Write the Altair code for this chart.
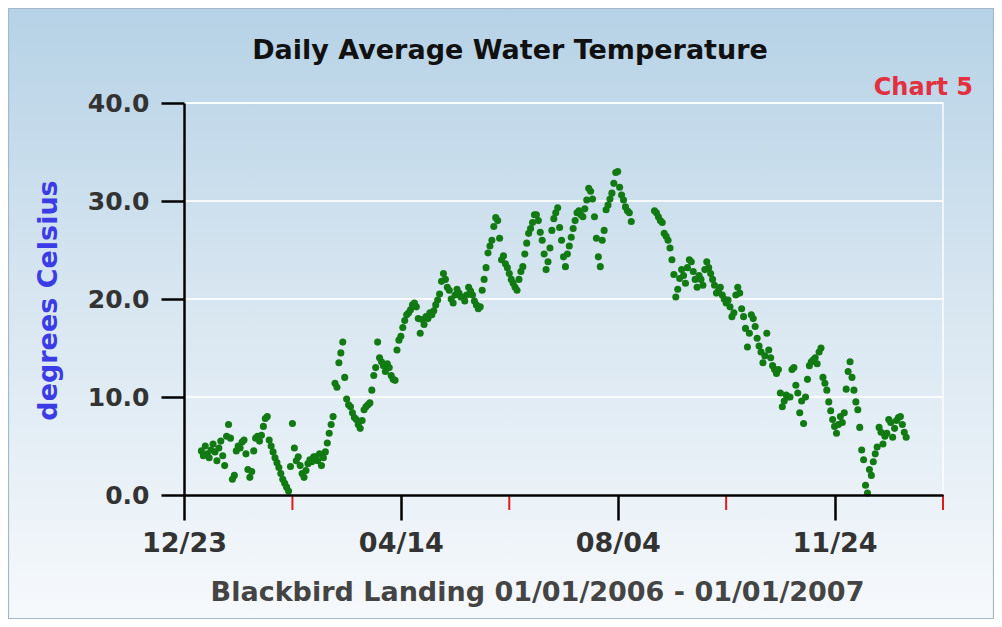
import altair as alt
import pandas as pd

# Daily average water temperature (deg C), 2006
jan_t = [4.5, 4.0, 5.0, 4.2, 3.8, 4.6, 5.2, 4.4, 3.5, 4.8,
         5.5, 4.0, 3.0, 6.0, 7.2, 5.8, 1.6, 2.0, 4.5, 5.0,
         4.8, 5.4, 5.6, 4.2, 2.6, 1.8, 2.4, 4.5, 5.8, 6.0, 5.5]
feb_t = [6.1, 7.0, 7.8, 8.0, 5.6, 5.0, 4.4, 3.8, 3.3,
         2.8, 2.2, 1.6, 1.2, 0.8, 0.4, 2.9, 7.3, 4.8, 3.5,
         3.9, 3.0, 2.2, 1.8, 2.5, 3.2, 3.6, 3.4, 3.9]
mar_t = [3.9, 3.5, 4.2, 3.0, 3.8, 4.4, 5.3, 6.3, 7.2, 8.0,
         11.4, 11.0, 13.5, 14.5, 15.6, 12.0, 9.8, 9.2, 9.0, 8.4,
         7.9, 7.7, 7.2, 6.8, 7.6, 8.7, 9.0, 9.2, 9.4, 10.7, 12.2]
apr_t = [13.0, 15.6, 14.0, 13.6, 13.2, 12.6, 13.4, 13.0, 12.2, 11.8,
         11.7, 14.8, 15.8, 16.2, 17.1, 17.8, 18.4, 18.6, 18.9, 19.4,
         19.6, 19.2, 18.0, 16.5, 17.9, 17.4, 18.2, 18.0, 18.6, 18.4]
may_t = [18.8, 19.4, 19.9, 20.5, 21.8, 22.6, 22.0, 21.2, 20.9, 20.0,
         19.6, 20.4, 21.0, 20.6, 20.2, 20.2, 19.8, 20.4, 21.2, 20.8,
         20.4, 19.8, 19.4, 19.0, 19.2, 20.9, 22.0, 23.2, 24.7, 25.4, 26.0]
jun_t = [27.4, 28.3, 28.0, 26.2, 24.0, 24.4, 23.6, 23.2, 22.6, 22.0,
         21.6, 21.2, 20.9, 22.0, 22.8, 23.3, 24.6, 25.7, 26.7, 27.2,
         27.8, 28.6, 28.6, 28.0, 26.8, 26.0, 24.6, 23.0, 23.8, 25.2]
jul_t = [27.0, 28.2, 28.8, 29.3, 27.3, 26.0, 24.3, 23.3, 24.6, 25.4,
         26.3, 27.2, 28.0, 28.8, 29.0, 28.6, 28.4, 29.2, 30.1, 31.3,
         31.0, 30.2, 28.4, 26.2, 24.3, 23.3, 26.0, 27.0, 29.1, 29.6, 30.2]
aug_t = [30.8, 31.8, 32.9, 33.0, 31.4, 30.6, 30.1, 29.4, 29.0, 28.8, 27.9,
         None, None, None, None, None, None, None, None, None, None, None,
         29.0, 28.8, 28.4, 28.0, 27.8, 26.7, 26.4, 26.0, 25.2]
sep_t = [24.0, 22.5, 20.2, 21.0, 22.1, 23.0, 22.4, 21.6, 23.2, 24.0,
         23.8, 22.8, 22.0, 21.2, 22.4, 22.0, 21.4, 23.0, 23.8, 23.2,
         22.6, 22.0, 21.4, 20.6, 20.8, 21.2, 20.4, 20.0, 19.6, 19.9]
oct_t = [19.2, 18.2, 18.6, 20.4, 21.2, 20.6, 19.0, 18.2, 17.0, 15.1,
         16.5, 18.4, 18.0, 17.2, 16.0, 15.2, 14.6, 13.5, 14.2, 16.5,
         14.8, 14.0, 13.2, 12.8, 12.4, 12.8, 10.4, 9.0, 9.6, 10.2, 10.0]
nov_t = [10.0, 12.8, 13.0, 11.2, 10.4, 8.4, 9.6, 7.3, 10.0, 11.8,
         13.2, 13.6, 13.8, 14.0, 13.4, 14.6, 15.0, 12.0, 11.4, 10.7,
         9.5, 8.6, 7.7, 7.0, 6.3, 7.2, 8.0, 7.4, 8.4, 10.8]
dec_t = [12.6, 13.6, 12.0, 10.7, 9.5, 8.7, 6.9, 4.6, 3.6, 1.0,
         0.2, 2.6, 2.0, 3.4, 4.2, 4.9, 6.9, 6.4, 5.2, 6.0,
         6.3, 7.7, 7.4, 5.9, 6.8, 7.6, 7.9, 8.0, 7.2, 6.4, 5.9]

major_ticks = ["2005-12-23", "2006-04-14", "2006-08-04", "2006-11-24"]
minor_ticks = ["2006-02-17", "2006-06-09", "2006-09-29", "2007-01-19"]
x_domain = ["2005-12-23", "2007-01-19"]
y_ticks = [0, 10, 20, 30, 40]
grid_values = [10, 20, 30, 40]

title_text = "Daily Average Water Temperature"
x_title = "Blackbird Landing 01/01/2006 - 01/01/2007"
y_title = "degrees Celsius"
tag_text = "Chart 5"

temps = (jan_t + feb_t + mar_t + apr_t + may_t + jun_t + jul_t + aug_t
         + sep_t + oct_t + nov_t + dec_t)
dates = pd.date_range("2006-01-01", "2006-12-31", freq="D").strftime("%Y-%m-%d")
df = pd.DataFrame({"date": list(dates), "temp": temps}).dropna()


def dt(s):
    y, m, d = (int(p) for p in s.split("-"))
    return alt.DateTime(year=y, month=m, date=d, utc=True)


FONT = "DejaVu Sans"
W, H = 759, 392
PL, PT, PR, PB = 176, 95, 51, 124

xscale = alt.Scale(type="utc", domain=[dt(s) for s in x_domain])
yscale = alt.Scale(domain=[0, 40])

bg_grad = alt.Gradient(
    gradient="linear",
    stops=[alt.GradientStop(color="#b6d2e6", offset=0),
           alt.GradientStop(color="#d6e5f0", offset=0.45),
           alt.GradientStop(color="#f6f9fc", offset=1)],
    x1=0, x2=0, y1=0, y2=1,
)

one = alt.Data(values=[{"k": 1}])

bg = alt.Chart(one).mark_rect(fill=bg_grad, stroke="#a3b8c8", strokeWidth=1.2).encode(
    x=alt.value(-PL + 0.5), x2=alt.value(W + PR - 0.5),
    y=alt.value(-PT + 0.5), y2=alt.value(H + PB - 0.5),
)

frame = alt.Chart(one).mark_rect(fill="transparent", stroke="white", strokeWidth=1.5,
                                 strokeOpacity=0.9).encode(
    x=alt.value(0), x2=alt.value(W), y=alt.value(0), y2=alt.value(H),
)

xaxis = alt.Axis(
    values=[dt(s) for s in major_ticks], format="%m/%d",
    tickSize=25, tickWidth=2.5, tickColor="black",
    domainColor="black", domainWidth=2.5, grid=False,
    labelFont=FONT, labelFontSize=27, labelFontWeight="bold", labelColor="#333333",
    labelPadding=10, labelFlush=False, labelOverlap=False,
    title=x_title,
    titleFont=FONT, titleFontSize=27, titleFontWeight="bold", titleColor="#444444",
    titleX=353, titleY=97, titleAlign="center", titleBaseline="middle",
    zindex=2,
)
yaxis = alt.Axis(
    values=y_ticks, format=".1f",
    tickSize=23, tickWidth=2.5, tickColor="black",
    domainColor="black", domainWidth=2.5, grid=False,
    labelFont=FONT, labelFontSize=25, labelFontWeight="bold", labelColor="#333333",
    labelPadding=12, labelFlush=False,
    title=y_title,
    titleFont=FONT, titleFontSize=27, titleFontWeight="bold", titleColor="#3c3ce6",
    titleX=-136, titleY=197, titleAlign="center", titleBaseline="middle", titleAngle=270,
    zindex=2,
)

grid = alt.Chart(pd.DataFrame({"temp": grid_values})).mark_rule(
    color="white", strokeWidth=2, opacity=0.85
).encode(y=alt.Y("temp:Q", scale=yscale, axis=yaxis))

pts = alt.Chart(df).mark_circle(size=50, color="#127a12", opacity=1).encode(
    x=alt.X("date:T", scale=xscale, axis=xaxis),
    y=alt.Y("temp:Q", scale=yscale, axis=yaxis),
)

red = alt.Chart(pd.DataFrame({"date": minor_ticks})).mark_rule(
    color="#e21b1b", strokeWidth=2
).encode(
    x=alt.X("date:T", scale=xscale, axis=xaxis),
    y=alt.value(H), y2=alt.value(H + 15),
)

title_mark = alt.Chart(one).mark_text(
    text=title_text, font=FONT, fontSize=27, fontWeight="bold", color="#111111",
    align="center", baseline="middle",
).encode(x=alt.value(326), y=alt.value(-52))

chart5 = alt.Chart(one).mark_text(
    text=tag_text, font=FONT, fontSize=24, fontWeight="bold", color="#e23040",
    align="right", baseline="middle",
).encode(x=alt.value(789), y=alt.value(-15))

chart = alt.layer(bg, grid, frame, pts, red, title_mark, chart5).properties(
    width=W, height=H,
    autosize=alt.AutoSizeParams(type="none"),
    padding={"left": PL, "top": PT, "right": PR, "bottom": PB},
).configure_view(strokeWidth=0).configure(background="white")

chart.save("out.html", embed_options={"renderer": "svg", "actions": False})
